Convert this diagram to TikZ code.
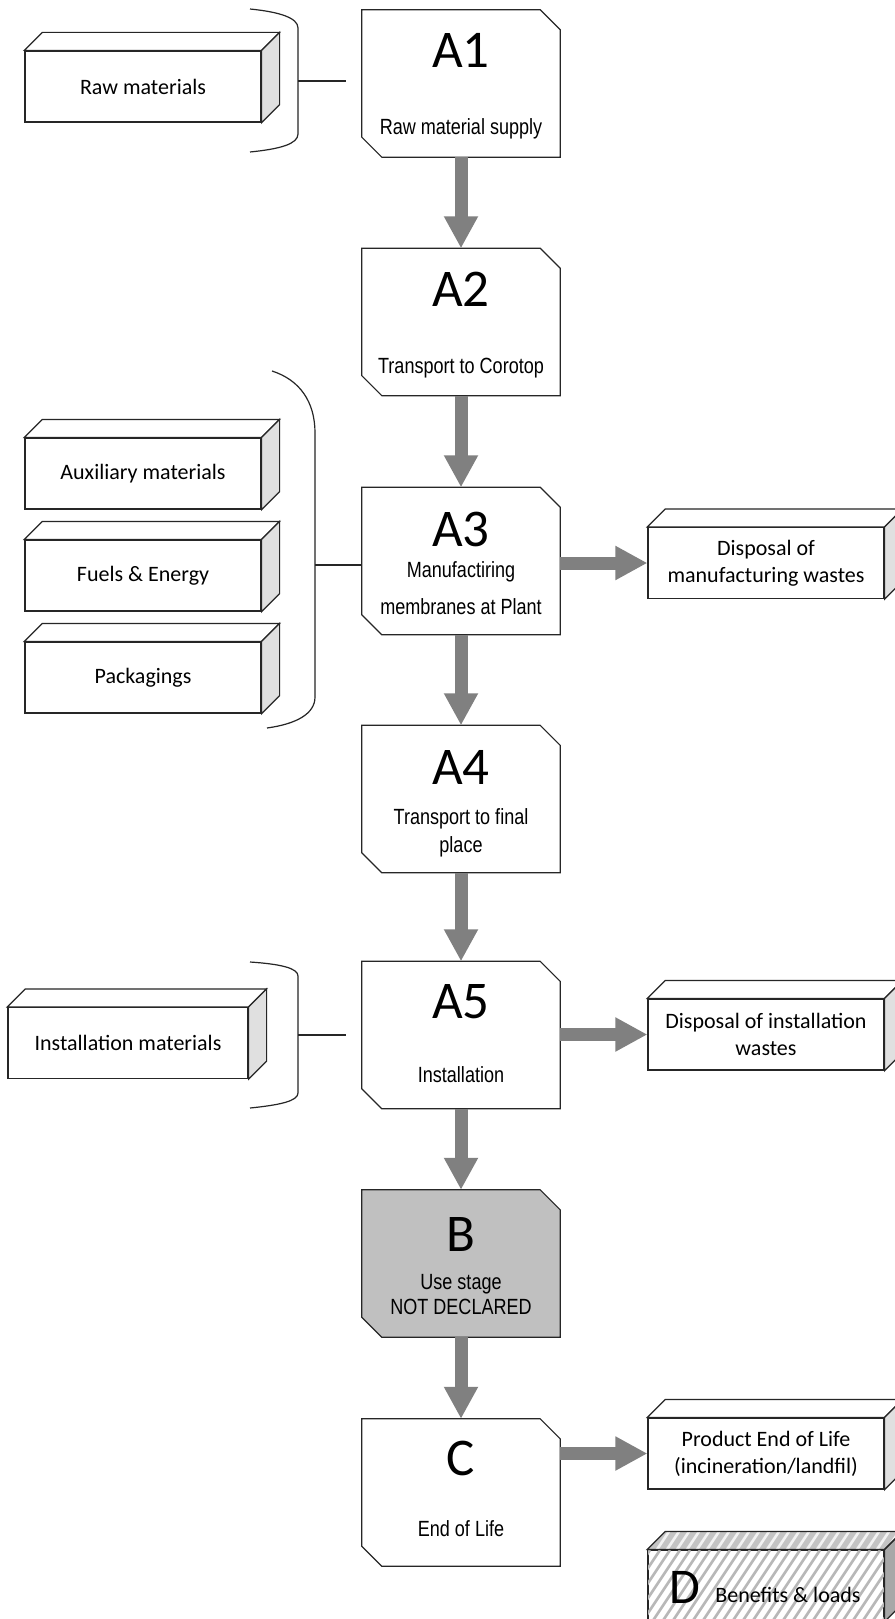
\documentclass[tikz,border=0pt]{standalone}
\usepackage{fontspec}
\setmainfont{Carlito}
\newfontfamily\narrowfont[FakeStretch=0.82]{Liberation Sans}
\usetikzlibrary{arrows.meta,calc}
\definecolor{arrowgray}{HTML}{808080}
\definecolor{sidegray}{HTML}{E0E0E0}
\definecolor{bgray}{HTML}{C0C0C0}
\definecolor{edge}{HTML}{262626}
\definecolor{hatchgray}{HTML}{B8B8B8}
\definecolor{topgray}{HTML}{C4C4C4}
\definecolor{dside}{HTML}{A8A8A8}

\newcommand\stageoutline[2]{%
  \draw[edgeline, fill=#2] (#1.north west) -- ($(#1.north east)+(-20,0)$) -- ($(#1.north east)+(0,20)$)
    -- (#1.south east) -- ($(#1.south west)+(20,0)$) -- ($(#1.south west)+(0,-20)$) -- cycle;}
\newcommand\cubefaces[3]{%
  \draw[edgeline, fill=#2] (#1.north west) -- ++(18,-18) -- ($(#1.north east)+(18,-18)$) -- (#1.north east) -- cycle;
  \draw[edgeline, fill=#3] (#1.north east) -- ++(18,-18) -- ($(#1.south east)+(18,-18)$) -- (#1.south east) -- cycle;}

\begin{document}
\begin{tikzpicture}[x=1pt,y=-1pt,
  edgeline/.style={draw=edge, line width=1.2pt, line join=miter},
  stage/.style={minimum width=198pt, minimum height=147pt, inner sep=0pt, draw=none},
  cube/.style={draw=edge, line width=1.2pt, fill=white, minimum width=236pt, minimum height=71pt,
    inner sep=0pt, align=center, font=\fontsize{22}{27}\selectfont},
  big/.style={inner sep=0pt, font=\fontsize{53}{60}\selectfont, text height=34pt, text depth=0pt},
  sub/.style={inner sep=0pt, font=\narrowfont\fontsize{22}{27}\selectfont, text height=16pt, text depth=0pt},
  flow/.style={draw=arrowgray, line width=13pt, -{Triangle[width=32pt,length=32pt]}},
  link/.style={draw=edge, line width=1.2pt},
  brace/.style={draw=edge, line width=1.2pt}]
\useasboundingbox (0,0) rectangle (894,1619);
\fill[white] (0,0) rectangle (894,1619);

% main stages
\node[stage] (A1) at (461,83.5) {};
\node[stage] (A2) at (461,322) {};
\node[stage] (A3) at (461,561) {};
\node[stage] (A4) at (461,799) {};
\node[stage] (A5) at (461,1035) {};
\node[stage] (B) at (461,1263.5) {};
\node[stage] (C) at (461,1492.5) {};
\stageoutline{A1}{white}
\stageoutline{A2}{white}
\stageoutline{A3}{white}
\stageoutline{A4}{white}
\stageoutline{A5}{white}
\stageoutline{B}{bgray}
\stageoutline{C}{white}

\node[big] (tA1) at ($(A1.north)+(0,41)$) {A1};
\node[sub] (sA1) at ($(A1.north)+(0,117)$) {Raw material supply};
\node[big] (tA2) at ($(A2.north)+(0,41)$) {A2};
\node[sub] (sA2) at ($(A2.north)+(0,117)$) {Transport to Corotop};
\node[big] (tA3) at ($(A3.north)+(0,42)$) {A3};
\node[sub] (sA3a) at ($(A3.north)+(0,82)$) {Manufactiring};
\node[sub] (sA3b) at ($(A3.north)+(0,119)$) {membranes at Plant};
\node[big] (tA4) at ($(A4.north)+(0,42)$) {A4};
\node[sub] (sA4a) at ($(A4.north)+(0,91)$) {Transport to final};
\node[sub] (sA4b) at ($(A4.north)+(0,119)$) {place};
\node[big] (tA5) at ($(A5.north)+(0,40)$) {A5};
\node[sub] (sA5) at ($(A5.north)+(0,113)$) {Installation};
\node[big] (tB) at ($(B.north)+(0,45)$) {B};
\node[sub] (sBa) at ($(B.north)+(0,92)$) {Use stage};
\node[sub] (sBb) at ($(B.north)+(0,117)$) {NOT DECLARED};
\node[big] (tC) at ($(C.north)+(0,40)$) {C};
\node[sub] (sC) at ($(C.north)+(0,110)$) {End of Life};

% left input boxes
\node[cube] (raw) at (143,86.5) {Raw materials};
\cubefaces{raw}{white}{sidegray}
\node[cube] (aux) at (143,473.5) {Auxiliary materials};
\cubefaces{aux}{white}{sidegray}
\node[cube] (fuel) at (143,575.5) {Fuels \& Energy};
\cubefaces{fuel}{white}{sidegray}
\node[cube] (pack) at (143,677.5) {Packagings};
\cubefaces{pack}{white}{sidegray}
\node[cube, minimum width=240pt] (inst) at (128,1043) {Installation materials};
\cubefaces{inst}{white}{sidegray}

% right output boxes
\node[cube] (dm) at (766,563) {Disposal of\\manufacturing wastes};
\cubefaces{dm}{white}{sidegray}
\node[cube] (di) at (766,1034.5) {Disposal of installation\\wastes};
\cubefaces{di}{white}{sidegray}
\node[cube] (eol) at (766,1453.5) {Product End of Life\\(incineration/landfil)};
\cubefaces{eol}{white}{sidegray}

% D box (hatched)
\node[cube] (D) at (766,1585.5) {};
\begin{scope}
  \clip (D.north west) -- ++(18,-18) -- ($(D.north east)+(18,-18)$) -- (D.north east) -- cycle;
  \fill[topgray] (600,1500) rectangle (910,1560);
  \foreach \i in {0,...,40} \draw[white!90!gray, line width=2.6pt] (600+\i*10,1560) -- ++(40,-60);
\end{scope}
\begin{scope}
  \clip (D.north east) -- ++(18,-18) -- ($(D.south east)+(18,-18)$) -- (D.south east) -- cycle;
  \fill[dside] (880,1500) rectangle (910,1640);
\end{scope}
\begin{scope}
  \clip (D.north west) rectangle (D.south east);
  \foreach \i in {0,...,40} \draw[hatchgray, line width=2.6pt] (560+\i*10,1640) -- ++(60,-90);
\end{scope}
\cubefaces{D}{none}{none}
\draw[edgeline] (D.north west) rectangle (D.south east);
\node[big, font=\fontsize{50}{56}\selectfont, text height=32pt] (tD) at (685,1587) {D};
\node[inner sep=0pt, font=\fontsize{22}{27}\selectfont] (sD) at (788,1595) {Benefits \& loads};

% brackets
\draw[brace] (250,9) .. controls (280,12) and (298,18) .. (298,28) -- (298,134) .. controls (298,144) and (280,149) .. (250,152);
\draw[brace] (272,371) .. controls (300,380) and (315,402) .. (315,433) -- (315,697) .. controls (315,714) and (296,724) .. (267,728);
\draw[brace] (250,962) .. controls (280,964) and (298,968) .. (298,976) -- (298,1093) .. controls (298,1101) and (280,1105) .. (250,1108);
\coordinate (b1) at (298,81);
\coordinate (b2) at (315,565);
\coordinate (b3) at (298,1035);
\draw[link, shorten >=16pt] (b1) -- (b1 -| A1.west);
\draw[link] (b2) -- (b2 -| A3.west);
\draw[link, shorten >=16pt] (b3) -- (b3 -| A5.west);

% flow arrows
\draw[flow] (A1.south) -- (A2.north);
\draw[flow] (A2.south) -- (A3.north);
\draw[flow] (A3.south) -- (A4.north);
\draw[flow] (A4.south) -- (A5.north);
\draw[flow] (A5.south) -- (B.north);
\draw[flow] (B.south) -- (C.north);
\draw[flow] (A3.east |- dm.west) -- (dm.west);
\draw[flow] (A5.east |- di.west) -- (di.west);
\draw[flow] (C.east |- eol.west) -- (eol.west);
\end{tikzpicture}
\end{document}
